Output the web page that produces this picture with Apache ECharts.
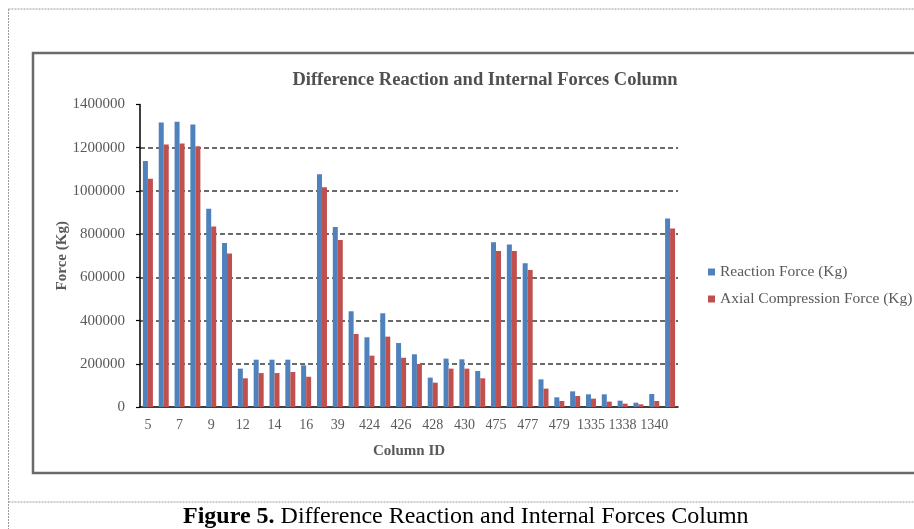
<!DOCTYPE html>
<html>
<head>
<meta charset="utf-8">
<script src="https://cdn.jsdelivr.net/npm/echarts@6/dist/echarts.min.js"></script>
<style>
html,body{margin:0;padding:0;background:#fff;}
#c{width:914px;height:529px;}
</style>
</head>
<body>
<div id="c"></div>
<script>
var categories = ['5','6','7','8','9','10','12','13','14','15','16','17','39','423','424','425','426','427','428','429','430','474','475','476','477','478','479','1334','1335','1337','1338','1339','1340','1341'];
var reactionForce = [1139000,1317000,1320000,1307000,917000,759000,177500,219000,219000,219000,193000,1077000,833000,443000,322600,433700,296000,244000,136000,224000,220700,166700,762500,751700,665000,128000,44800,72500,58700,58700,29300,20000,60200,872000];
var axialForce = [1056000,1215000,1219000,1207000,835000,710000,132700,157000,157000,162000,140000,1017000,773000,338000,237700,325700,228000,199000,112700,177500,177500,132700,722000,722000,634000,85000,27800,51000,38600,24700,15400,12300,27800,825800];
var yTicks = [0,200000,400000,600000,800000,1000000,1200000,1400000];
var titleText = 'Difference Reaction and Internal Forces Column';
var seriesNames = ['Reaction Force (Kg)','Axial Compression Force (Kg)'];
var captionBold = 'Figure 5.';
var captionRest = ' Difference Reaction and Internal Forces Column';

var serif = '"Liberation Serif", "Times New Roman", serif';
var chart = echarts.init(document.getElementById('c'), null, {renderer:'canvas'});
chart.setOption({
  animation:false,
  backgroundColor:'#ffffff',
  title:{
    text:titleText, left:480, top:66, textAlign:'center',
    textStyle:{fontFamily:serif,fontSize:18.5,fontWeight:'bold',color:'#505050'}
  },
  legend:{
    orient:'vertical', left:703, top:259, itemWidth:7, itemHeight:7, itemGap:11,
    icon:'rect',
    textStyle:{fontFamily:serif,fontSize:15.5,color:'#595959'},
    data:seriesNames
  },
  grid:{left:140, top:104.5, width:538, height:302.5, containLabel:false},
  xAxis:{
    type:'category', data:categories, boundaryGap:true,
    name:'Column ID', nameLocation:'middle', nameGap:37,
    nameTextStyle:{fontFamily:serif,fontSize:15,fontWeight:'bold',color:'#595959'},
    axisLine:{lineStyle:{color:'#000',width:1.5}},
    axisTick:{show:false},
    axisLabel:{interval:1, margin:11, fontFamily:serif, fontSize:14, color:'#595959'}
  },
  yAxis:{
    type:'value', min:yTicks[0], max:yTicks[yTicks.length-1], interval:200000,
    name:'Force (Kg)', nameLocation:'middle', nameGap:70, nameMoveOverlap:false,
    nameTextStyle:{fontFamily:serif,fontSize:15,fontWeight:'bold',color:'#595959'},
    axisLine:{show:true,lineStyle:{color:'#000',width:1.5}},
    axisTick:{show:true,length:4,inside:false,lineStyle:{color:'#000',width:1.2}},
    axisLabel:{margin:15, fontFamily:serif, fontSize:15, color:'#595959', formatter:function(v){return String(v);}},
    splitLine:{show:true,lineStyle:{color:['transparent','#3a3a3a','#3a3a3a','#3a3a3a','#3a3a3a','#3a3a3a','#3a3a3a','transparent'],width:1.5,type:[5,3]}}
  },
  series:[
    {name:seriesNames[0], type:'bar', data:reactionForce, barWidth:5, barGap:'0%', itemStyle:{color:'#4F81BD'}},
    {name:seriesNames[1], type:'bar', data:axialForce, barWidth:5, barGap:'0%', itemStyle:{color:'#C0504D'}}
  ],
  graphic:[
    {type:'rect', silent:true, z:-1, shape:{x:33,y:53,width:900,height:420}, style:{fill:'none',stroke:'#6a6a6a',lineWidth:2.5}},
    {type:'line', silent:true, shape:{x1:8.5,y1:9,x2:914,y2:9}, style:{stroke:'#9a9a9a',lineWidth:1,lineDash:[2,1]}},
    {type:'line', silent:true, shape:{x1:8.5,y1:9,x2:8.5,y2:529}, style:{stroke:'#9a9a9a',lineWidth:1,lineDash:[2,1]}},
    {type:'line', silent:true, shape:{x1:8.5,y1:502,x2:914,y2:502}, style:{stroke:'#9a9a9a',lineWidth:1,lineDash:[2,1]}},
    {type:'text', silent:true, left:183, top:505,
      style:{
        text:'{b|'+captionBold+'}{r|'+captionRest+'}',
        rich:{
          b:{fontFamily:serif,fontSize:24,fontWeight:'bold',fill:'#000'},
          r:{fontFamily:serif,fontSize:24,fill:'#000'}
        }
      }
    }
  ]
});
</script>
</body>
</html>
